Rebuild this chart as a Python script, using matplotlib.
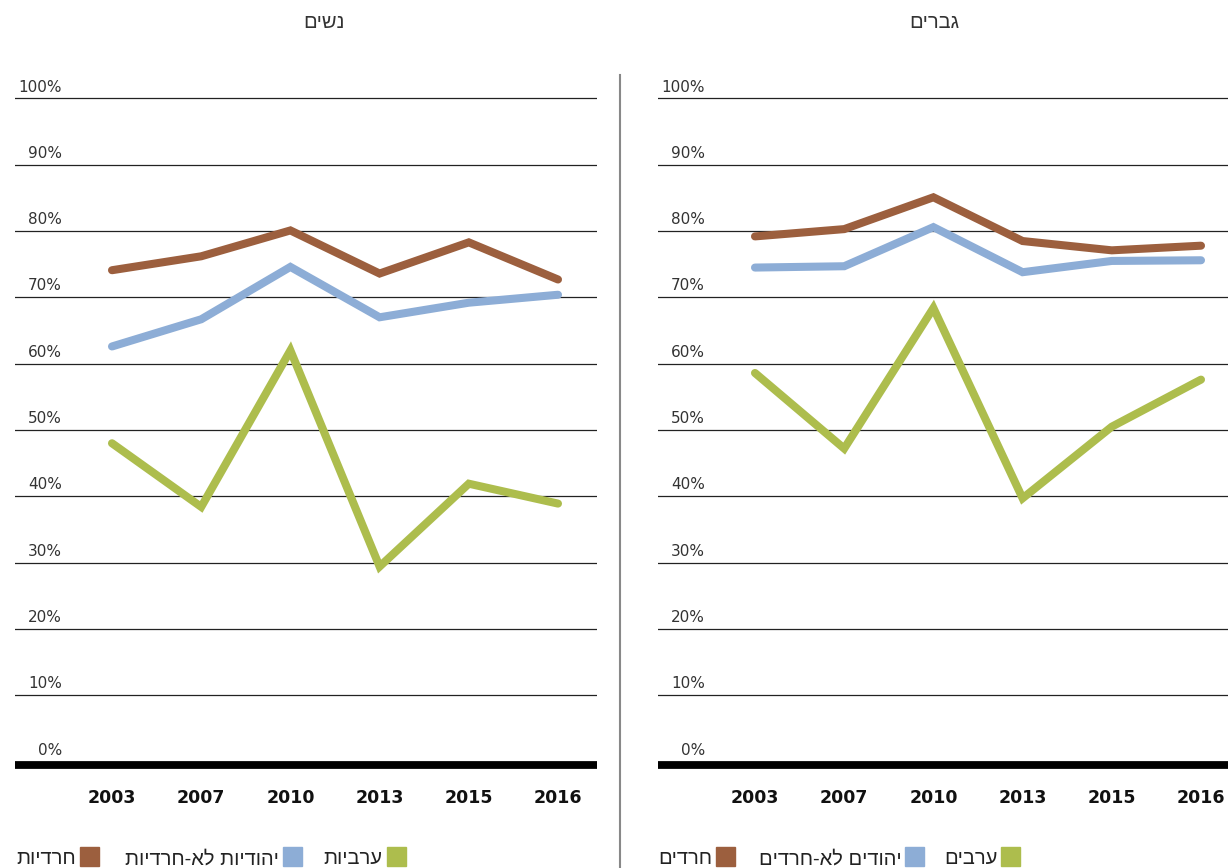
import matplotlib
matplotlib.use("Agg")
import matplotlib.pyplot as plt
from matplotlib.patches import Rectangle
from matplotlib.lines import Line2D

# ---------------- data ----------------
years = ["2003", "2007", "2010", "2013", "2015", "2016"]
yticks = [0, 10, 20, 30, 40, 50, 60, 70, 80, 90, 100]

women_title = "נשים"
men_title = "גברים"

women_haredi = [74.1, 76.2, 80.1, 73.6, 78.3, 72.7]
women_jewish = [62.6, 66.7, 74.6, 67.0, 69.2, 70.4]
women_arab = [48.0, 38.4, 62.0, 29.4, 41.9, 38.9]

men_haredi = [79.2, 80.3, 85.1, 78.5, 77.1, 77.8]
men_jewish = [74.5, 74.7, 80.6, 73.8, 75.5, 75.6]
men_arab = [58.6, 47.2, 68.4, 39.7, 50.5, 57.6]

women_labels = ["ערביות", "יהודיות לא-חרדיות", "חרדיות"]
men_labels = ["ערבים", "יהודים לא-חרדים", "חרדים"]

c_haredi = "#9C5F3E"
c_jewish = "#8DADD6"
c_arab = "#ADBD4D"

# ---------------- layout ----------------
W, H = 1228, 868
fig = plt.figure(figsize=(W / 100, H / 100), dpi=100)


def fx(px):
    return px / W


def fy(py):
    return 1 - py / H


def rtl(s):
    # matplotlib lays text out left-to-right; reverse for right-to-left display
    return s[::-1]


HEB = ["Liberation Sans", "DejaVu Sans"]

ax_top, ax_bot = 80, 775
panels = [
    (15, 597, 112, women_title, 324, [women_arab, women_jewish, women_haredi], women_labels,
     [(387, 382), (283, 279), (80, 76)]),
    (658, 1228, 755, men_title, 934, [men_arab, men_jewish, men_haredi], men_labels,
     [(1001, 998), (905, 902), (716, 712)]),
]
step = 89.2
ppu = 6.63  # pixels per percent

for (x0, x1, xc0, title, tx, series, labels, leg) in panels:
    ax = fig.add_axes([fx(x0), fy(ax_bot), fx(x1 - x0), (ax_bot - ax_top) / H])
    ax.set_xlim((x0 - xc0) / step, (x1 - xc0) / step)
    ax.set_ylim(-(ax_bot - 761.5) / ppu, 100 + (98.5 - ax_top) / ppu)
    for s in ax.spines.values():
        s.set_visible(False)
    ax.set_yticks([])
    xs = list(range(len(years)))
    ax.set_xticks(xs)
    ax.set_xticklabels(years, fontfamily="DejaVu Sans", fontweight="bold",
                       fontsize=12.5, color="#111111")
    ax.tick_params(axis="x", length=0, pad=10)

    for v in yticks[1:]:
        ax.axhline(v, color="#222222", lw=0.9, zorder=1)
    ax.axhline(-0.6, color="black", lw=5.6, zorder=1, solid_capstyle="butt")
    for v in yticks:
        ax.text((x0 + 47 - xc0) / step, v + 0.6, f"{v}%", ha="right", va="bottom",
                fontsize=11, color="#333333", fontfamily="DejaVu Sans")

    for vals, col in zip(series, [c_arab, c_jewish, c_haredi]):
        ax.plot(xs, vals, color=col, lw=5.8, solid_capstyle="round",
                solid_joinstyle="miter", zorder=3)

    fig.text(fx(tx), fy(22), rtl(title), ha="center", va="center", fontsize=14.5,
             color="#333333", fontfamily=HEB)

    for (sqx, textx), lab, col in zip(leg, labels, [c_arab, c_jewish, c_haredi]):
        fig.patches.append(Rectangle((fx(sqx), fy(866)), fx(19), 19 / H,
                                     transform=fig.transFigure, color=col))
        fig.text(fx(textx), fy(859), rtl(lab), ha="right", va="center", fontsize=14.5,
                 color="#222222", fontfamily=HEB)

fig.add_artist(Line2D([fx(620), fx(620)], [fy(75), 0], transform=fig.transFigure,
                      color="#888888", lw=1.5))

fig.savefig("out.png", dpi=100, facecolor="white")
